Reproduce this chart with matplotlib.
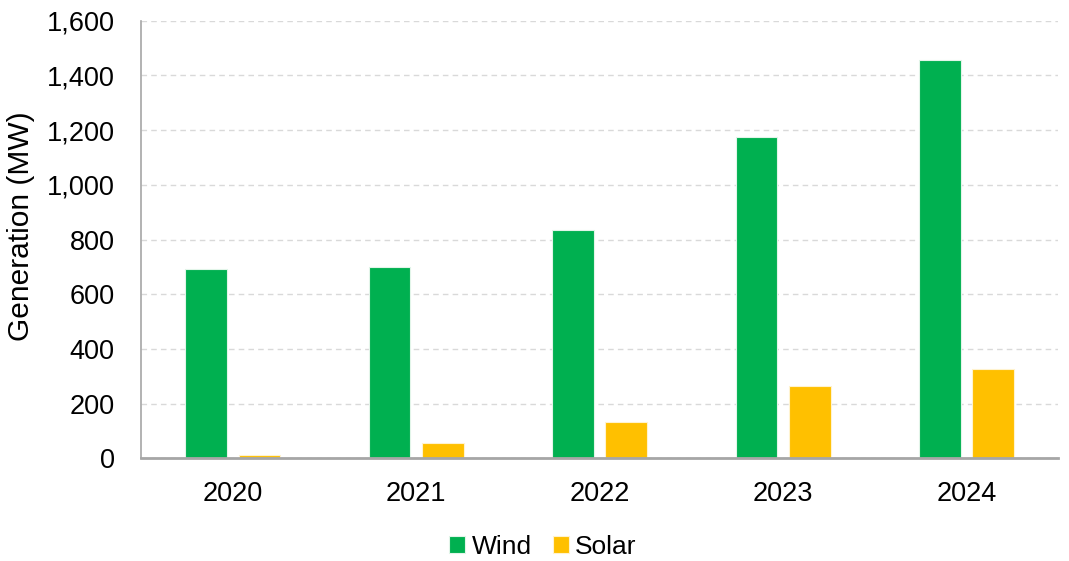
import numpy as np
import matplotlib.pyplot as plt
from matplotlib.ticker import FuncFormatter

plt.rcParams['font.family'] = ['Liberation Sans', 'DejaVu Sans']

years = ['2020', '2021', '2022', '2023', '2024']
wind = [692, 699, 835, 1175, 1457]
solar = [11, 55, 132, 264, 327]

fig = plt.figure(figsize=(10.69, 5.61), dpi=100)
ax = fig.add_axes([0.132, 0.183, 0.858, 0.78])

x = np.arange(len(years))
width = 0.227
off = 0.145
ax.bar(x - off, wind, width, color='#00B050', edgecolor='#E2F5E9',
       linewidth=0.8, label='Wind', zorder=3)
ax.bar(x + off, solar, width, color='#FFC000', edgecolor='#FFF3CF',
       linewidth=0.8, label='Solar', zorder=3)

ax.set_xlim(-0.5, len(years) - 0.5)
ax.set_ylim(0, 1600)
ax.set_yticks(np.arange(0, 1601, 200))
ax.yaxis.set_major_formatter(FuncFormatter(lambda v, p: f'{int(v):,}'))
ax.set_xticks(x)
ax.set_xticklabels(years)
ax.tick_params(axis='both', length=0, labelsize=19.5, colors='black')
ax.tick_params(axis='x', pad=16)
ax.tick_params(axis='y', pad=19)

ax.grid(axis='y', color='#D9D9D9', linestyle=(0, (4, 3)), linewidth=1, zorder=0)
for s in ['top', 'right']:
    ax.spines[s].set_visible(False)
ax.spines['left'].set_color('#A6A6A6')
ax.spines['left'].set_linewidth(1.2)
ax.spines['bottom'].set_color('#A6A6A6')
ax.spines['bottom'].set_linewidth(2)
ax.spines['bottom'].set_zorder(4)

ax.set_ylabel('Generation (MW)', fontsize=21.5)
ax.yaxis.set_label_coords(-0.116, 0.531)

ax.legend(loc='center', bbox_to_anchor=(0.438, -0.203), ncol=2, frameon=False,
          fontsize=19, handlelength=0.6, handleheight=0.6, handletextpad=0.25,
          columnspacing=0.8, borderpad=0)

fig.savefig('out.png', dpi=100)
